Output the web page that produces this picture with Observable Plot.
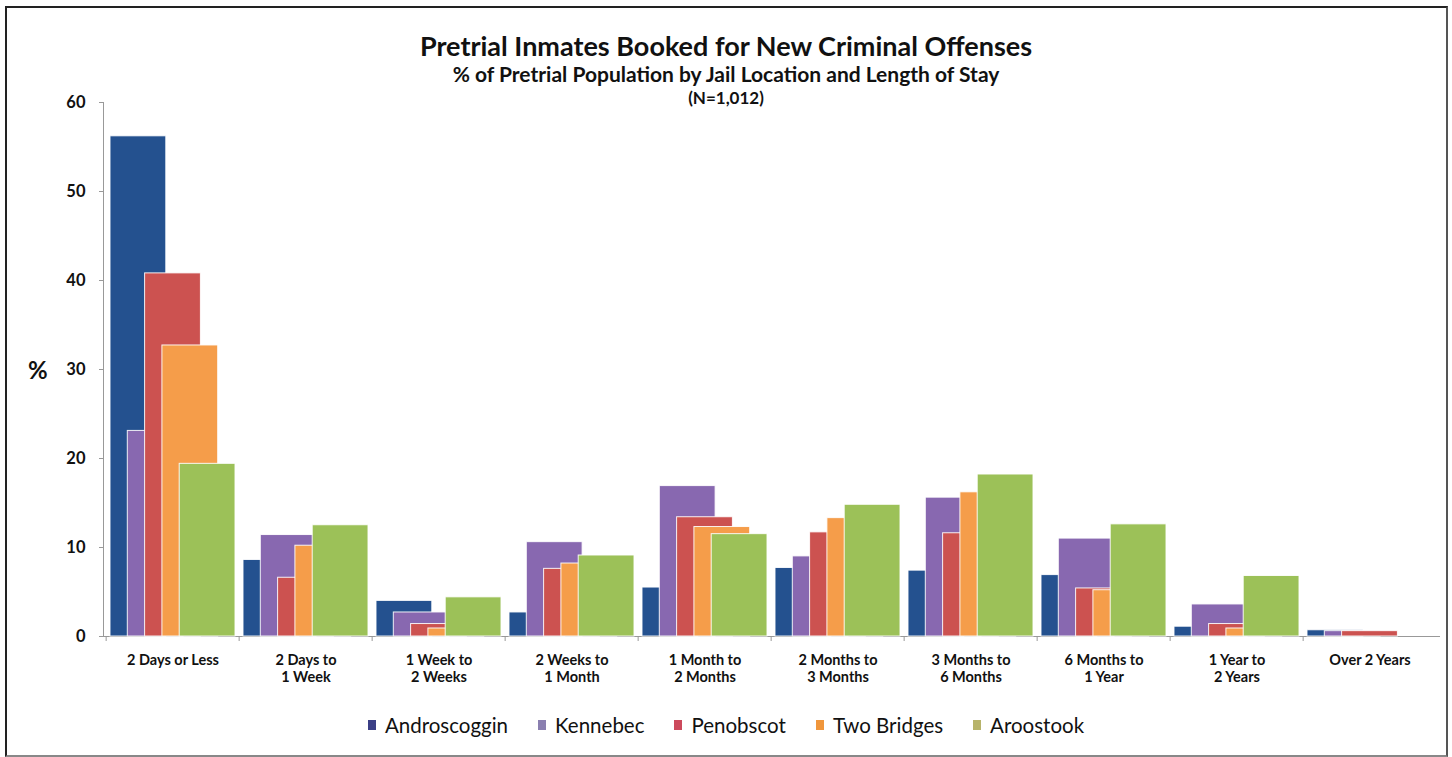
<!DOCTYPE html>
<html>
<head>
<meta charset="utf-8">
<script src="https://cdn.jsdelivr.net/npm/d3@7"></script>
<script src="https://cdn.jsdelivr.net/npm/@observablehq/plot@0.6"></script>
<style>
  html, body { margin: 0; padding: 0; background: #fff; }
  body { width: 1452px; height: 757px; position: relative; overflow: hidden; font-family: Lato, "Open Sans", sans-serif; }
  #frame { position: absolute; left: 5px; top: 6px; width: 1439px; height: 747px; border: 2px solid #222; border-right-color: #555; border-bottom-color: #888; }
  .t { position: absolute; left: 0; width: 1452px; text-align: center; font-weight: bold; color: #111; white-space: nowrap; }
  #title { top: 29px; font-size: 27px; }
  #subtitle { top: 61px; font-size: 21px; }
  #n { top: 87px; font-size: 17px; }
  #ylab { position: absolute; left: 28px; top: 355px; font-size: 24px; font-weight: bold; color: #111; }
  #chart { position: absolute; left: 0; top: 0; }
  #legend { position: absolute; top: 713px; left: 0; width: 1452px; display: flex; justify-content: center; gap: 30px; font-size: 20.5px; color: #111; }
  .item { display: flex; align-items: center; }
  .sw { width: 8px; height: 10px; margin-right: 9px; }
</style>
</head>
<body>
<div id="frame"></div>
<div id="chart"></div>
<div id="title" class="t">Pretrial Inmates Booked for New Criminal Offenses</div>
<div id="subtitle" class="t">% of Pretrial Population by Jail Location and Length of Stay</div>
<div id="n" class="t">(N=1,012)</div>
<div id="ylab">%</div>
<div id="legend"></div>
<script>
const categories = [
  "2 Days or Less", "2 Days to\n1 Week", "1 Week to\n2 Weeks", "2 Weeks to\n1 Month",
  "1 Month to\n2 Months", "2 Months to\n3 Months", "3 Months to\n6 Months",
  "6 Months to\n1 Year", "1 Year to\n2 Years", "Over 2 Years"
];
const seriesNames = ["Androscoggin", "Kennebec", "Penobscot", "Two Bridges", "Aroostook"];
const androscoggin = [56.2, 8.6, 4.0, 2.7, 5.5, 7.7, 7.4, 6.9, 1.1, 0.7];
const kennebec     = [23.1, 11.4, 2.7, 10.6, 16.9, 9.0, 15.6, 11.0, 3.6, 0.6];
const penobscot    = [40.8, 6.6, 1.4, 7.6, 13.4, 11.7, 11.6, 5.4, 1.4, 0.6];
const twoBridges   = [32.7, 10.2, 0.9, 8.2, 12.3, 13.3, 16.2, 5.2, 0.9, 0];
const aroostook    = [19.4, 12.5, 4.4, 9.1, 11.5, 14.8, 18.2, 12.6, 6.8, 0];
const yTicks = [0, 10, 20, 30, 40, 50, 60];
const colors = ["#24518f", "#8868b0", "#cc5250", "#f59d4a", "#9cc158"];
const legendColors = ["#3b3f86", "#8a7fb0", "#cc4a5c", "#f0963c", "#b7b36a"];

const seriesValues = [androscoggin, kennebec, penobscot, twoBridges, aroostook];
const rows = [];
seriesNames.forEach((s, si) => categories.forEach((c, ci) => rows.push({series: s, category: c, value: seriesValues[si][ci]})));

const W = 1452, mL = 103, mR = 12;
const step = (W - mL - mR) / categories.length;
const off = 17.3;

const marks = [
  Plot.frame({anchor: "left", stroke: "#999"}),
  Plot.ruleY([0], {stroke: "#999"}),
  Plot.axisY({ticks: yTicks, tickSize: 4, tickPadding: 14, fontSize: 16.5, fontWeight: "bold", stroke: "#999", fill: "#111", label: null}),
  Plot.axisX({tickSize: 0, tickPadding: 16, fontSize: 14.5, fontWeight: "bold", lineHeight: 1.2, fill: "#111", label: null}),
  Plot.axisX({tickSize: 5, text: null, dx: -step / 2, stroke: "#999", label: null})
];
seriesNames.forEach((s, i) => {
  marks.push(Plot.barY(rows.filter(r => r.series === s), {
    x: "category", y: "value", fill: colors[i],
    stroke: "white", strokeWidth: 1, strokeOpacity: 0.9,
    insetLeft: i * off, insetRight: (4 - i) * off
  }));
});

const chart = Plot.plot({
  width: W, height: 700,
  marginLeft: mL, marginRight: mR, marginTop: 102, marginBottom: 64,
  style: {fontFamily: "Lato, 'Open Sans', sans-serif", background: "transparent"},
  x: {domain: categories, paddingInner: 0.058, paddingOuter: 0.029},
  y: {domain: [0, 60]},
  marks
});
document.getElementById("chart").appendChild(chart);

const legend = document.getElementById("legend");
seriesNames.forEach((s, i) => {
  const it = document.createElement("div");
  it.className = "item";
  const sw = document.createElement("span");
  sw.className = "sw";
  sw.style.background = legendColors[i];
  it.appendChild(sw);
  it.appendChild(document.createTextNode(s));
  legend.appendChild(it);
});
</script>
</body>
</html>
